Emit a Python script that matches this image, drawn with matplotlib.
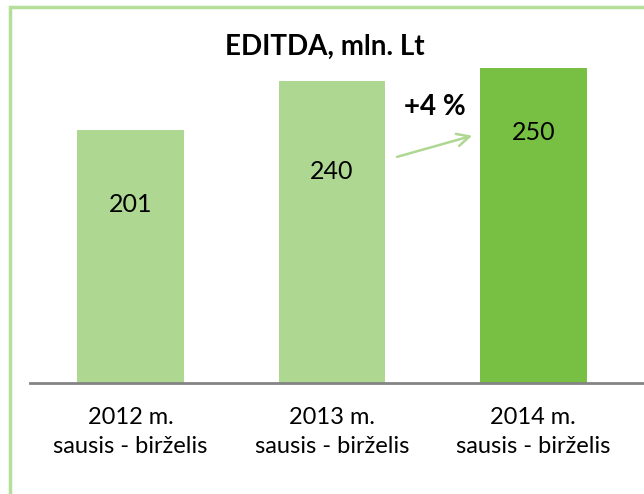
import matplotlib.pyplot as plt
from matplotlib.patches import Rectangle

periods = ["2012 m.\nsausis - birželis", "2013 m.\nsausis - birželis", "2014 m.\nsausis - birželis"]
values = [201, 240, 250]
title = "EDITDA, mln. Lt"
growth_label = "+4 %"

LIGHT = "#AED891"
DARK = "#77C043"
FONT = ["Lato", "DejaVu Sans"]

fig = plt.figure(figsize=(6.44, 4.94), dpi=100)

# outer frame (only top and left visible, the rest is cut off)
top = 1 - 7 / 494
fig.patches.append(Rectangle((10 / 644, -0.5), 2.0, top + 0.5, transform=fig.transFigure,
                             fill=False, edgecolor="#B5DE9B", linewidth=2.5))

ax = fig.add_axes([30 / 644, (494 - 383) / 494, 1 - 30 / 644, 383 / 494])
ax.set_xlim(-0.5, 2.55)
ax.set_ylim(0, 383 / 1.259)
ax.axis("off")

x = range(len(values))
colors = [LIGHT, LIGHT, DARK]
ax.bar(x, values, width=0.53, color=colors, zorder=2)
ax.axhline(0, color="#848484", linewidth=2, zorder=3, clip_on=False)

# value labels (placed as in the original, not centred)
label_y = [142, 168, 199]
for i, v in enumerate(values):
    ax.text(i, label_y[i], str(v), ha="center", va="center", fontsize=18, family=FONT)

# category labels
for i, p in enumerate(periods):
    ax.text(i, -19, p, ha="center", va="top", fontsize=17, family=FONT, linespacing=1.5)

fig.text(325 / 644, 1 - 47 / 494, title, ha="center", va="center",
         fontsize=20, fontweight="bold", family=FONT)

ax.text(1.51, 219, growth_label, ha="center", va="center", fontsize=20,
        fontweight="bold", family=FONT)
ax.annotate("", xy=(1.71, 197), xytext=(1.31, 179),
            arrowprops=dict(arrowstyle="->,head_length=0.9,head_width=0.45",
                            color=LIGHT, linewidth=1.8))

fig.savefig("out.png", dpi=100)
